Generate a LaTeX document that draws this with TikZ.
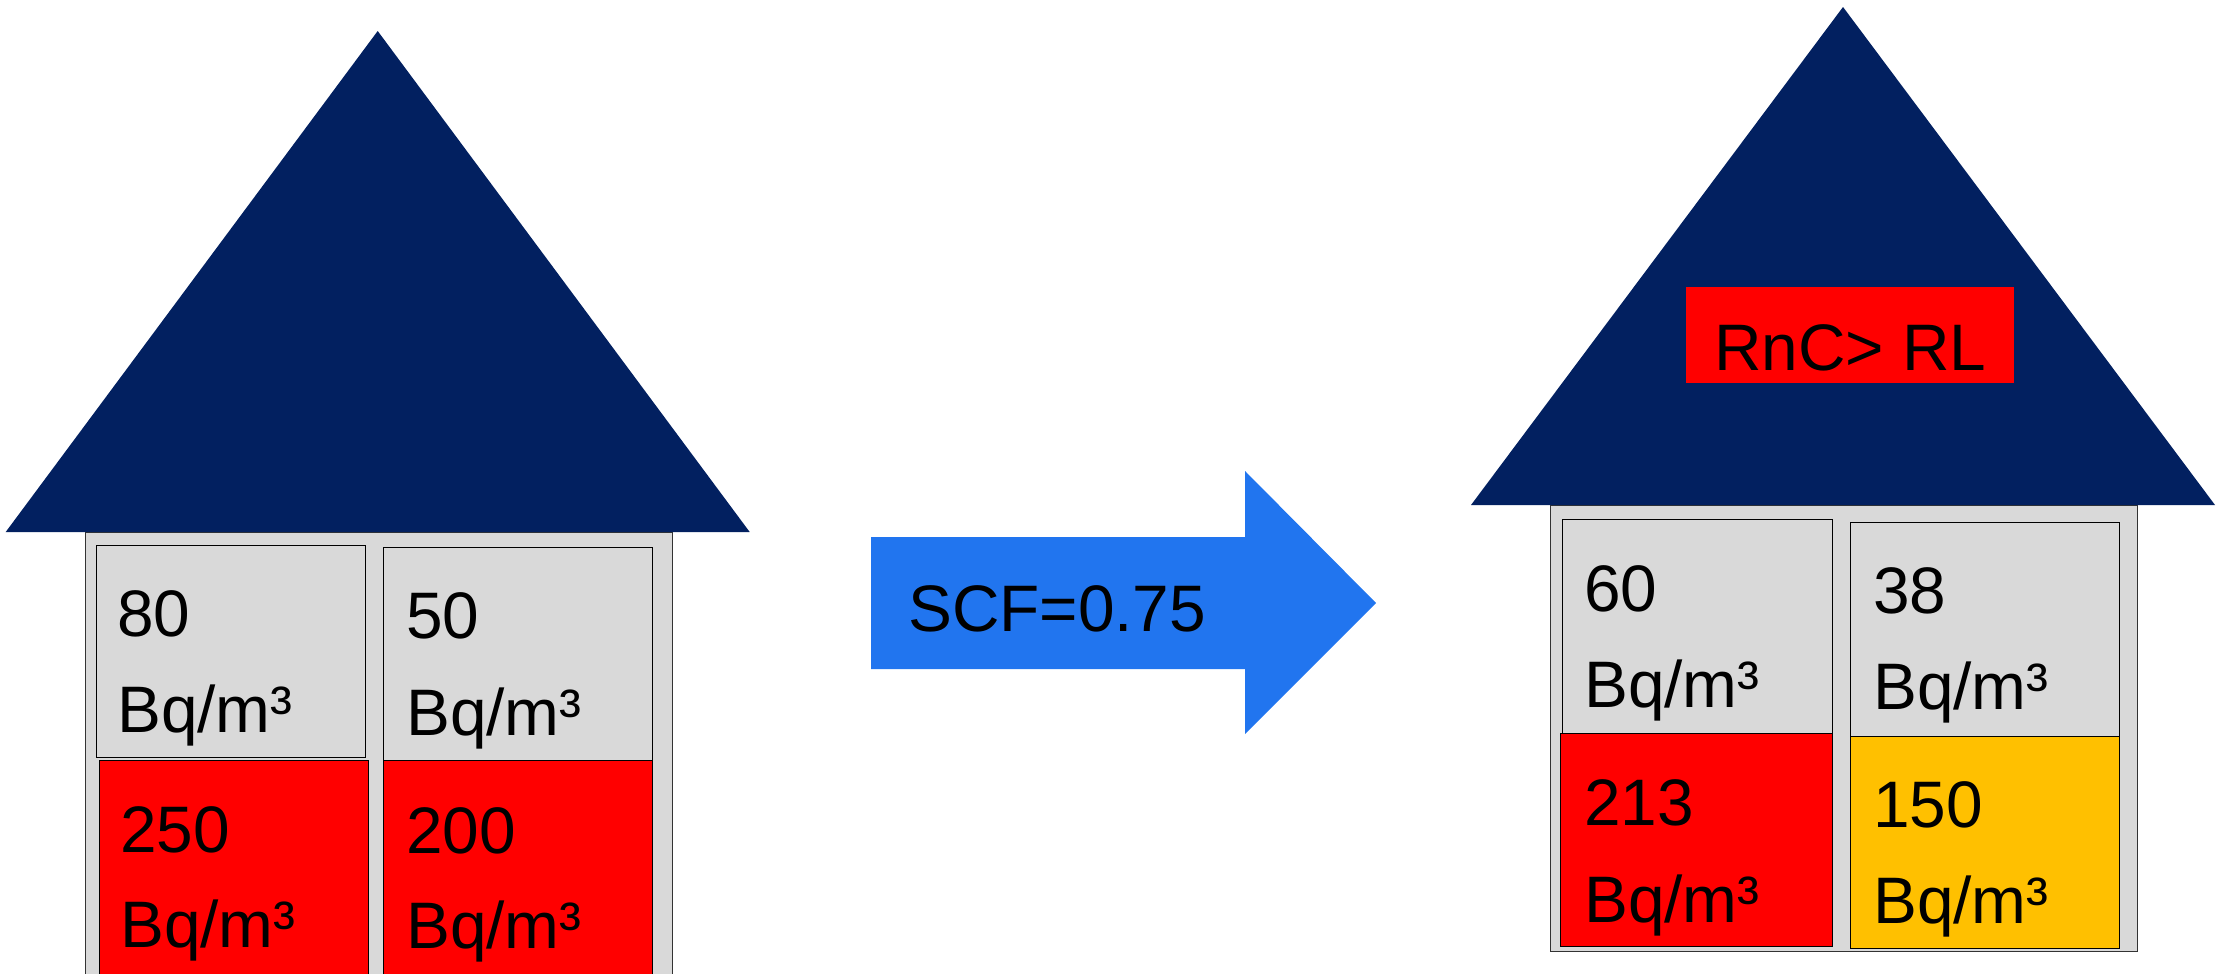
\documentclass[tikz,border=0pt]{standalone}
\usepackage{fontspec}
\setmainfont{Liberation Sans}
\definecolor{navy}{RGB}{2,32,96}
\definecolor{wallgrey}{RGB}{217,217,217}
\definecolor{arrowblue}{RGB}{33,117,239}
\definecolor{hotred}{RGB}{255,0,0}
\definecolor{amber}{RGB}{255,192,0}
\begin{document}
\begin{tikzpicture}[x=1bp,y=-1bp,
  room/.style={draw=black,line width=0.9bp,inner sep=0,anchor=north west,minimum width=#1},
  wallbox/.style={draw=black!80,line width=0.9bp,fill=wallgrey,inner sep=0,anchor=north west},
  roof/.style={fill=navy},
  lbl/.style={anchor=base west,inner sep=0,font=\fontsize{66}{70}\selectfont}]
\useasboundingbox (0,0) rectangle (2218,973);
\clip (0,0) rectangle (2218,973);

% ---------- left house ----------
\node[wallbox,minimum width=587bp,minimum height=460bp] (lwall) at (85,532) {};
\fill[roof] (5.7,532) coordinate (lroofL) -- (377.7,31) coordinate (lroofT) -- (749.7,532) coordinate (lroofR) -- cycle;
\node[room=269bp,fill=wallgrey,minimum height=212bp] (lTL) at (96,545) {};
\node[room=269bp,fill=wallgrey,minimum height=213bp] (lTR) at (383,547) {};
\node[room=269bp,fill=hotred,minimum height=230bp] (lBL) at (99,760) {};
\node[room=269bp,fill=hotred,minimum height=230bp] (lBR) at (383,760) {};
\node[lbl] (tLTL1) at (117,636) {80};
\node[lbl] (tLTL2) at (117,732) {Bq/m³};
\node[lbl] (tLTR1) at (406,638) {50};
\node[lbl] (tLTR2) at (406,735) {Bq/m³};
\node[lbl] (tLBL1) at (120,852) {250};
\node[lbl] (tLBL2) at (120,947) {Bq/m³};
\node[lbl] (tLBR1) at (406,853) {200};
\node[lbl] (tLBR2) at (406,948) {Bq/m³};

% ---------- arrow ----------
\fill[arrowblue] (871,537) -- (1245,537) -- (1245,471) -- (1376,603) coordinate (atip) -- (1245,734) -- (1245,669) -- (871,669) -- cycle;
\node[lbl] (scf) at (908,631) {SCF=0.75};

% ---------- right house ----------
\node[wallbox,minimum width=587bp,minimum height=446bp] (rwall) at (1550,505) {};
\fill[roof] (1471,505) coordinate (rroofL) -- (1843,7) coordinate (rroofT) -- (2215,505) coordinate (rroofR) -- cycle;
\node[fill=hotred,inner sep=0,anchor=north west,minimum width=328bp,minimum height=96bp] (rnc) at (1686,287) {};
\node[lbl] (rnctext) at (1714,370) {RnC> RL};
\node[room=270bp,fill=wallgrey,minimum height=214bp] (rTL) at (1562,519) {};
\node[room=269bp,fill=wallgrey,minimum height=214bp] (rTR) at (1850,522) {};
\node[room=272bp,fill=hotred,minimum height=213bp] (rBL) at (1560,733) {};
\node[room=269bp,fill=amber,minimum height=212bp] (rBR) at (1850,736) {};
\node[lbl] (tRTL1) at (1584,611) {60};
\node[lbl] (tRTL2) at (1584,707) {Bq/m³};
\node[lbl] (tRTR1) at (1873,613) {38};
\node[lbl] (tRTR2) at (1873,709) {Bq/m³};
\node[lbl] (tRBL1) at (1584,825) {213};
\node[lbl] (tRBL2) at (1584,922) {Bq/m³};
\node[lbl] (tRBR1) at (1873,827) {150};
\node[lbl] (tRBR2) at (1873,923) {Bq/m³};
\end{tikzpicture}
\end{document}
